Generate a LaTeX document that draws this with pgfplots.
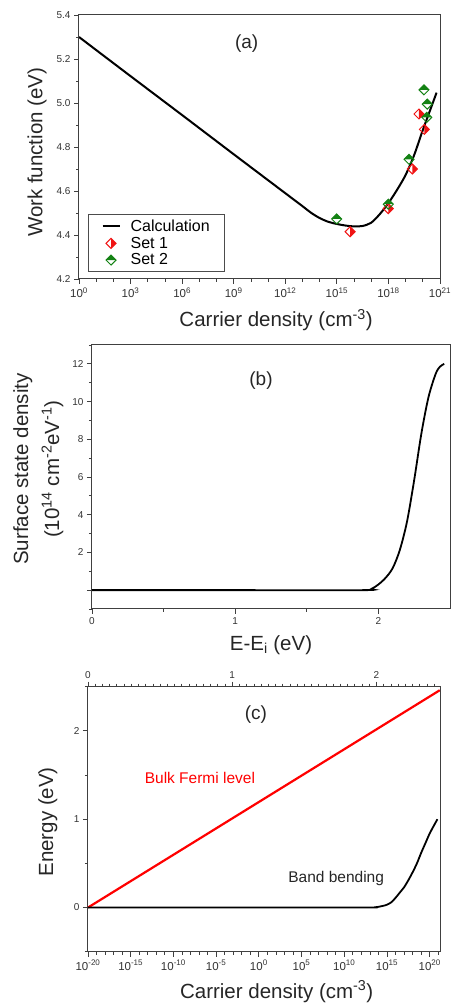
\documentclass[border=0pt]{standalone}
\usepackage{fontspec}
\setmainfont{Liberation Sans}
\usepackage{pgfplots}
\pgfplotsset{compat=1.18}

% half-filled diamonds
\pgfdeclareplotmark{diaR}{%
  \pgfpathmoveto{\pgfqpoint{0pt}{\pgfplotmarksize}}%
  \pgfpathlineto{\pgfqpoint{\pgfplotmarksize}{0pt}}%
  \pgfpathlineto{\pgfqpoint{0pt}{-\pgfplotmarksize}}%
  \pgfpathclose
  \pgfusepathqfill
  \pgfpathmoveto{\pgfqpoint{0pt}{\pgfplotmarksize}}%
  \pgfpathlineto{\pgfqpoint{\pgfplotmarksize}{0pt}}%
  \pgfpathlineto{\pgfqpoint{0pt}{-\pgfplotmarksize}}%
  \pgfpathlineto{\pgfqpoint{-\pgfplotmarksize}{0pt}}%
  \pgfpathclose
  \pgfusepathqstroke
}
\pgfdeclareplotmark{diaT}{%
  \pgfpathmoveto{\pgfqpoint{-\pgfplotmarksize}{0pt}}%
  \pgfpathlineto{\pgfqpoint{0pt}{\pgfplotmarksize}}%
  \pgfpathlineto{\pgfqpoint{\pgfplotmarksize}{0pt}}%
  \pgfpathclose
  \pgfusepathqfill
  \pgfpathmoveto{\pgfqpoint{0pt}{\pgfplotmarksize}}%
  \pgfpathlineto{\pgfqpoint{\pgfplotmarksize}{0pt}}%
  \pgfpathlineto{\pgfqpoint{0pt}{-\pgfplotmarksize}}%
  \pgfpathlineto{\pgfqpoint{-\pgfplotmarksize}{0pt}}%
  \pgfpathclose
  \pgfusepathqstroke
}

\definecolor{setred}{RGB}{240,20,20}
\definecolor{setgreen}{RGB}{20,130,20}

\pgfplotsset{
  panel/.style={
    scale only axis,
    tick align=outside,
    xtick pos=left, ytick pos=left,
    axis line style={line width=1pt, black!75},
    every tick/.style={black!75, line width=0.8pt},
    major tick length=5pt, minor tick length=3pt,
    yticklabel style={font=\fontsize{10}{12}\selectfont, black!80},
    xticklabel style={font=\fontsize{11.5}{13}\selectfont, black!80},
    label style={font=\fontsize{20.5}{24}\selectfont, black!85},
    /pgf/number format/assume math mode=true,
  },
}

\pgfplotstableread{
n W
1       5.300
1e3     5.122
1e6     4.945
1e9     4.767
1e12    4.590
1e13    4.531
3.16e13 4.501
1e14    4.477
3.16e14 4.460
1e15    4.450
3.16e15 4.443
1e16    4.439
3.16e16 4.441
1e17    4.456
3.16e17 4.495
1e18    4.545
3.16e18 4.605
1e19    4.673
3.16e19 4.764
1e20    4.877
3.16e20 4.983
6.3e20  5.047
}\calc

\pgfplotstableread{
n W
5.9e15 4.415
9.8e17 4.520
2.45e19 4.700
6.0e19 4.950
1.23e20 4.880
}\setone

\pgfplotstableread{
n W
9.8e14 4.473
9.8e17 4.540
1.58e19 4.744
1.17e20 5.060
1.82e20 4.995
1.70e20 4.935
}\settwo

\pgfplotstableread{
E D
0     0
1.0   0
1.9   0
1.95  0.06
2.0   0.30
2.05  0.65
2.1   1.17
2.15  2.14
2.2   3.64
2.25  5.84
2.3   8.30
2.35  10.24
2.4   11.47
2.43  11.85
2.46  12.0
}\ssd

\pgfplotstableread{
n E
1e-20   0
1.5e21  2.46
}\fermi

\pgfplotstableread{
n E
1e-20   0
1e0     0
1e13    0
3.16e13 0.002
1e14    0.008
3.16e14 0.018
1e15    0.032
3.16e15 0.060
1e16    0.110
3.16e16 0.170
1e17    0.230
3.16e17 0.310
1e18    0.400
3.16e18 0.500
1e19    0.620
3.16e19 0.730
1e20    0.840
3.16e20 0.930
7.9e20  1.000
}\bend

\begin{document}
\begin{tikzpicture}
\useasboundingbox (0,0) rectangle (452pt,1005pt);

% ---------------- (a) ----------------
\begin{axis}[panel,
  at={(79pt,726pt)}, anchor=south west,
  width=361pt, height=264pt,
  xmode=log, xmin=1, xmax=1e21,
  ymin=4.2, ymax=5.4,
  xtick={1,1e3,1e6,1e9,1e12,1e15,1e18,1e21},
  xticklabels={10\textsuperscript{0},10\textsuperscript{3},10\textsuperscript{6},10\textsuperscript{9},10\textsuperscript{12},10\textsuperscript{15},10\textsuperscript{18},10\textsuperscript{21}},
  minor xtick={1e1,1e2,1e4,1e5,1e7,1e8,1e10,1e11,1e13,1e14,1e16,1e17,1e19,1e20},
  ytick={4.2,4.4,...,5.41},
  minor ytick={4.3,4.5,...,5.31},
  yticklabel style={/pgf/number format/.cd, fixed, fixed zerofill, precision=1},
  xlabel={Carrier density (cm\textsuperscript{-3})},
  ylabel={Work function (eV)},
  xlabel style={at={(axis description cs:0.546,-0.155)}, anchor=center},
  ylabel style={at={(axis description cs:-0.116,0.48)}, anchor=center},
  legend style={at={(0.025,0.027)}, anchor=south west,
    font=\fontsize{16}{19}\selectfont, draw=black!70, line width=1pt,
    inner xsep=13pt, inner ysep=3pt, row sep=0pt,
    /tikz/every odd column/.append style={column sep=8pt},
    /tikz/every even column/.append style={column sep=8pt}},
  legend cell align=left,
]
\addplot[black, line width=2pt, smooth] table[x=n, y=W] {\calc};
\addlegendentry{Calculation}
\addplot[only marks, mark=diaR, mark size=5pt,
  mark options={draw=setred, fill=setred, line width=1pt}] table[x=n, y=W] {\setone};
\addlegendentry{Set 1}
\addplot[only marks, mark=diaT, mark size=5pt,
  mark options={draw=setgreen, fill=setgreen, line width=1pt}] table[x=n, y=W] {\settwo};
\addlegendentry{Set 2}
\node[font=\fontsize{19}{22}\selectfont, black!85] at (axis description cs:0.4645,0.892) {(a)};
\end{axis}

% ---------------- (b) ----------------
\begin{axis}[panel,
  at={(92pt,396pt)}, anchor=south west,
  width=358pt, height=264pt,
  xmin=0, xmax=2.5, ymin=-1, ymax=13,
  xtick={0,1,2}, minor xtick={0.5,1.5},
  ytick={0,2,4,6,8,10,12},
  yticklabels={,2,4,6,8,10,12},
  minor ytick={-1,1,3,5,7,9,11,13},
  xticklabel style={font=\fontsize{10}{12}\selectfont},
  xlabel={E-E\textsubscript{i} (eV)},
  ylabel={Surface state density\\[7pt](10\textsuperscript{14} cm\textsuperscript{-2}eV\textsuperscript{-1})},
  xlabel style={at={(axis description cs:0.5,-0.136)}, anchor=center},
  ylabel style={at={(axis description cs:-0.150,0.53)}, anchor=center, align=center},
]
\addplot[black, line width=1.8pt, smooth] table[x=E, y=D] {\ssd};
\node[font=\fontsize{19}{22}\selectfont, black!85] at (axis description cs:0.472,0.867) {(b)};
\end{axis}

% ---------------- (c) ----------------
\begin{axis}[panel,
  at={(88pt,53.3pt)}, anchor=south west,
  width=352pt, height=265pt,
  xmode=log, xmin=1e-20, xmax=1.585e21,
  ymin=-0.5, ymax=2.5,
  xtick={1e-20,1e-15,1e-10,1e-5,1,1e5,1e10,1e15,1e20},
  xticklabels={10\textsuperscript{-20},10\textsuperscript{-15},10\textsuperscript{-10},10\textsuperscript{-5},10\textsuperscript{0},10\textsuperscript{5},10\textsuperscript{10},10\textsuperscript{15},10\textsuperscript{20}},
  minor xtick={1e-19,1e-18,1e-17,1e-16,1e-14,1e-13,1e-12,1e-11,1e-9,1e-8,1e-7,1e-6,1e-4,1e-3,1e-2,1e-1,1e1,1e2,1e3,1e4,1e6,1e7,1e8,1e9,1e11,1e12,1e13,1e14,1e16,1e17,1e18,1e19,1e21},
  ytick={0,1,2}, minor ytick={-0.5,0.5,1.5,2.5},
  xlabel={Carrier density (cm\textsuperscript{-3})},
  ylabel={Energy (eV)},
  xlabel style={at={(axis description cs:0.536,-0.151)}, anchor=center},
  ylabel style={at={(axis description cs:-0.114,0.49)}, anchor=center},
]
\addplot[red, line width=2.2pt] table[x=n, y=E] {\fermi};
\addplot[black, line width=1.8pt, smooth] table[x=n, y=E] {\bend};
\node[font=\fontsize{19}{22}\selectfont, black!85] at (axis description cs:0.477,0.893) {(c)};
\node[font=\fontsize{15.5}{18}\selectfont, red] at (axis description cs:0.318,0.654) {Bulk Fermi level};
\node[font=\fontsize{15.5}{18}\selectfont, black!85] at (axis description cs:0.705,0.277) {Band bending};
\end{axis}

\begin{axis}[panel,
  at={(88pt,53.3pt)}, anchor=south west,
  width=352pt, height=265pt,
  xmin=0, xmax=2.44, ymin=-0.5, ymax=2.5,
  axis x line*=top, axis y line=none,
  xtick pos=right,
  xticklabel style={font=\fontsize{10}{12}\selectfont},
  xtick={0,1,2}, minor xtick={0.05,0.1,...,2.43},
]
\end{axis}
\end{tikzpicture}
\end{document}
